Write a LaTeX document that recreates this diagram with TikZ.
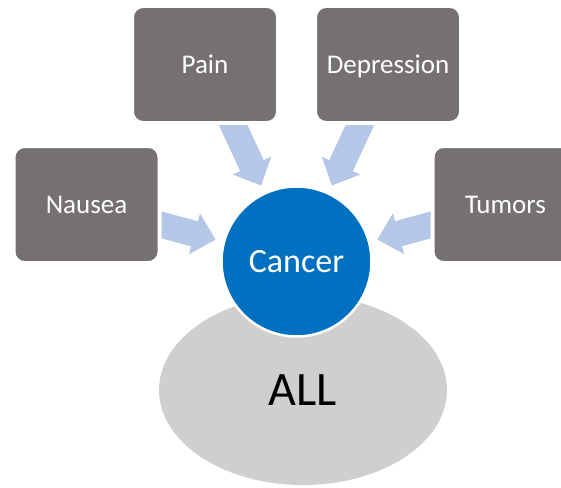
\documentclass[tikz,border=0pt]{standalone}
\usepackage{fontspec}
\setmainfont{Carlito}
\usetikzlibrary{arrows.meta,shapes.geometric,backgrounds}
\definecolor{boxgray}{HTML}{767171}
\definecolor{ellgray}{HTML}{D0CECE}
\definecolor{cancerblue}{HTML}{0070C0}
\definecolor{arrowblue}{HTML}{B4C7E7}
\tikzset{
  symbox/.style={rectangle, rounded corners=11pt, fill=boxgray, draw=white, line width=4pt,
    minimum width=146pt, minimum height=117pt, inner sep=0pt, text=white,
    text height=20pt, text depth=2.6pt,
    font=\fontsize{27}{32}\selectfont},
  bigarrow/.style={draw=arrowblue, line width=26pt, -{Triangle[length=22pt,width=41pt]}, shorten >=7.5pt}
}
\begin{document}
\begin{tikzpicture}[x=1pt,y=-1pt]
\useasboundingbox (0,0) rectangle (561,487);
\clip (0,0) rectangle (561,487);
\node[ellipse, fill=ellgray, minimum width=288pt, minimum height=190pt, inner sep=0pt,
  font=\fontsize{48}{54}\selectfont] (all) at (303,390) {ALL};
\node[circle, fill=cancerblue, draw=white, line width=2.5pt, minimum size=150pt, inner sep=0pt,
  text=white, font=\fontsize{34}{40}\selectfont] (cancer) at (296.5,261.5) {Cancer};
\node[symbox] (pain) at (205,64.5) {Pain};
\node[symbox] (depr) at (388,64.5) {Depression};
\node[symbox] (nausea) at (86.5,204.5) {Nausea};
\node[symbox] (tumors) at (505.5,204.5) {Tumors};
\begin{scope}[on background layer]
  \draw[bigarrow] (pain.center) -- (cancer);
  \draw[bigarrow] (depr.center) -- (cancer);
  \draw[bigarrow] (nausea.center) -- (cancer);
  \draw[bigarrow] (tumors.center) -- (cancer);
\end{scope}
\end{tikzpicture}
\end{document}
